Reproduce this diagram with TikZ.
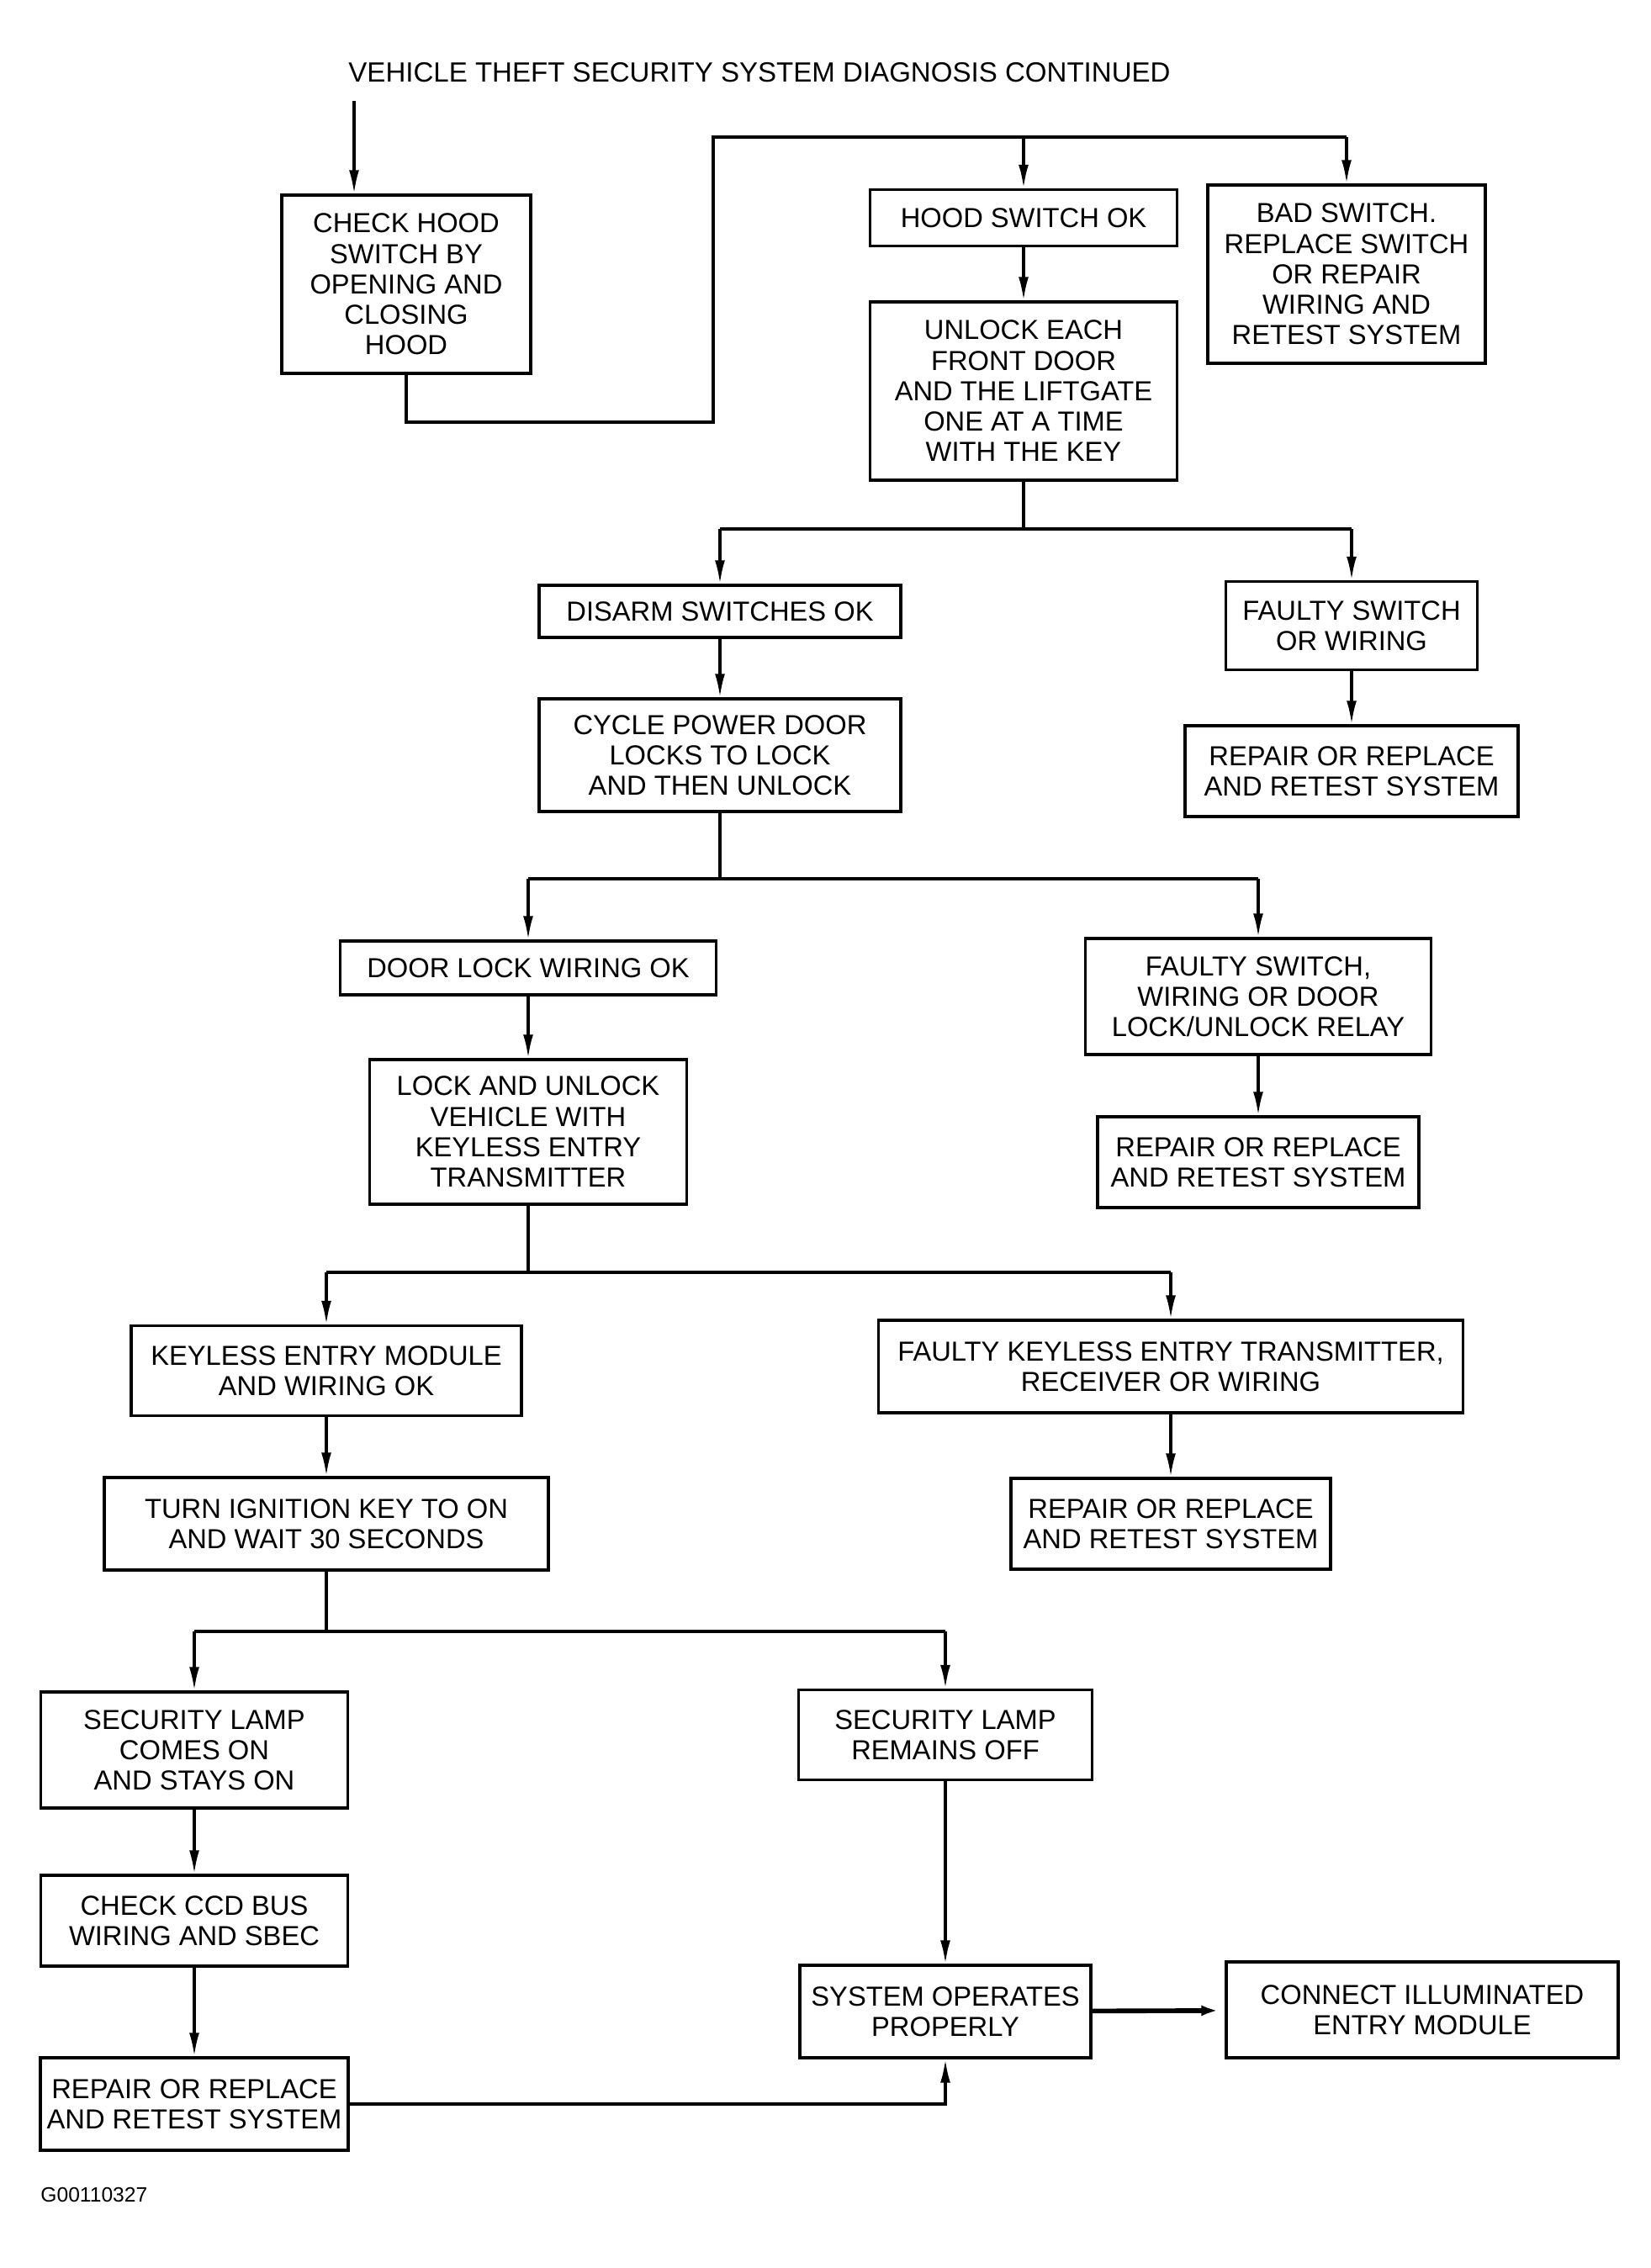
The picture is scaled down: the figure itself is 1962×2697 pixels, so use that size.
\documentclass[tikz,border=0pt]{standalone}
\usepackage{fontspec}
\setmainfont{Liberation Sans}
\usepackage{tikz}
\usetikzlibrary{arrows.meta,positioning,calc}

\tikzset{
	box/.style={draw,line width=0.9pt,align=center,inner sep=0pt,font=\fontsize{9.3}{10.3}\selectfont},
	sz/.style 2 args={minimum width={#1*0.01cm},minimum height={#2*0.01cm}},
	link/.style={line width=0.9pt},
	arr/.style={line width=0.9pt,-{Latex[length=8pt,width=3.4pt]}},
}

\begin{document}
\begin{tikzpicture}[x=0.01cm,y=-0.01cm]
		\useasboundingbox (0,0) rectangle (1962,2697);
		\node[anchor=west,font=\fontsize{9.4}{10}\selectfont] (title) at (402,86) {VEHICLE THEFT SECURITY SYSTEM DIAGNOSIS CONTINUED};
		\coordinate (start) at (421,120);
		% top level
		\node[box,sz={296}{212}] (check) at (483,338) {CHECK HOOD\\SWITCH BY\\OPENING AND\\CLOSING\\HOOD};
		\node[box,sz={365}{67}] (hoodok) at (1217,259) {HOOD SWITCH OK};
		\node[box,sz={330}{212}] (bad) at (1601,326) {BAD SWITCH.\\REPLACE SWITCH\\OR REPAIR\\WIRING AND\\RETEST SYSTEM};
		\node[box,sz={365}{212}] (unlock) at (1217,465) {UNLOCK EACH\\FRONT DOOR\\AND THE LIFTGATE\\ONE AT A TIME\\WITH THE KEY};
		% disarm switches
		\node[box,sz={430}{62}] (disarm) at (856,727) {DISARM SWITCHES OK};
		\node[box,sz={299}{105}] (faultysw) at (1607,744) {FAULTY SWITCH\\OR WIRING};
		\node[box,sz={396}{108}] (repairA) at (1607,917) {REPAIR OR REPLACE\\AND RETEST SYSTEM};
		\node[box,sz={430}{134}] (cycle) at (856,898) {CYCLE POWER DOOR\\LOCKS TO LOCK\\AND THEN UNLOCK};
		% door locks
		\node[box,sz={447}{64}] (doorok) at (628,1151) {DOOR LOCK WIRING OK};
		\node[box,sz={411}{138}] (faultyrel) at (1496,1185) {FAULTY SWITCH,\\WIRING OR DOOR\\LOCK/UNLOCK RELAY};
		\node[box,sz={382}{108}] (repairB) at (1496,1382) {REPAIR OR REPLACE\\AND RETEST SYSTEM};
		\node[box,sz={377}{172}] (lockunlock) at (628,1346) {LOCK AND UNLOCK\\VEHICLE WITH\\KEYLESS ENTRY\\TRANSMITTER};
		% keyless entry
		\node[box,sz={464}{107}] (kemodule) at (388,1630) {KEYLESS ENTRY MODULE\\AND WIRING OK};
		\node[box,sz={695}{110}] (faultyke) at (1392,1625) {FAULTY KEYLESS ENTRY TRANSMITTER,\\RECEIVER OR WIRING};
		\node[box,sz={380}{108}] (repairC) at (1392,1812) {REPAIR OR REPLACE\\AND RETEST SYSTEM};
		\node[box,sz={528}{110}] (ignition) at (388,1812) {TURN IGNITION KEY TO ON\\AND WAIT 30 SECONDS};
		% security lamp
		\node[box,sz={365}{138}] (lampon) at (231,2081) {SECURITY LAMP\\COMES ON\\AND STAYS ON};
		\node[box,sz={349}{107}] (lampoff) at (1124,2063) {SECURITY LAMP\\REMAINS OFF};
		\node[box,sz={365}{108}] (ccdbus) at (231,2284) {CHECK CCD BUS\\WIRING AND SBEC};
		\node[box,sz={366}{110}] (repairD) at (231,2502) {REPAIR OR REPLACE\\AND RETEST SYSTEM};
		\node[box,sz={346}{110}] (sysok) at (1124,2392) {SYSTEM OPERATES\\PROPERLY};
		\node[box,sz={466}{114}] (connect) at (1691,2390) {CONNECT ILLUMINATED\\ENTRY MODULE};
		\node[anchor=west,font=\fontsize{7}{8}\selectfont] (figid) at (36,2610) {G00110327};
		% connectors
		\coordinate (jA) at (848,502);
		\coordinate (jB) at (848,163);
		\coordinate (jC) at (0,629);
		\coordinate (jD) at (0,1045);
		\coordinate (jE) at (0,1513);
		\coordinate (jF) at (0,1940);
		\draw[arr] (start) -- (start |- check.north);
		\draw[link] (check.south) |- (jA) -- (jB) -- (jB -| bad.north);
		\draw[arr] (jB -| hoodok.north) -- (hoodok.north);
		\draw[arr] (jB -| bad.north) -- (bad.north);
		\draw[arr] (hoodok) -- (unlock);
		\draw[link] (unlock.south) -- (unlock.south |- jC);
		\draw[link] (disarm.north |- jC) -- (faultysw.north |- jC);
		\draw[arr] (disarm.north |- jC) -- (disarm.north);
		\draw[arr] (faultysw.north |- jC) -- (faultysw.north);
		\draw[arr] (faultysw) -- (repairA);
		\draw[arr] (disarm) -- (cycle);
		\draw[link] (cycle.south) -- (cycle.south |- jD);
		\draw[link] (doorok.north |- jD) -- (faultyrel.north |- jD);
		\draw[arr] (doorok.north |- jD) -- (doorok.north);
		\draw[arr] (faultyrel.north |- jD) -- (faultyrel.north);
		\draw[arr] (faultyrel) -- (repairB);
		\draw[arr] (doorok) -- (lockunlock);
		\draw[link] (lockunlock.south) -- (lockunlock.south |- jE);
		\draw[link] (kemodule.north |- jE) -- (faultyke.north |- jE);
		\draw[arr] (kemodule.north |- jE) -- (kemodule.north);
		\draw[arr] (faultyke.north |- jE) -- (faultyke.north);
		\draw[arr] (faultyke) -- (repairC);
		\draw[arr] (kemodule) -- (ignition);
		\draw[link] (ignition.south) -- (ignition.south |- jF);
		\draw[link] (lampon.north |- jF) -- (lampoff.north |- jF);
		\draw[arr] (lampon.north |- jF) -- (lampon.north);
		\draw[arr] (lampoff.north |- jF) -- (lampoff.north);
		\draw[arr] (lampon) -- (ccdbus);
		\draw[arr] (ccdbus) -- (repairD);
		\draw[arr] (lampoff) -- (sysok);
		\draw[arr] (repairD.east) -| (sysok.south);
		\draw[arr,line width=1.6pt] (sysok) -- (connect);
	\end{tikzpicture}
\end{document}
